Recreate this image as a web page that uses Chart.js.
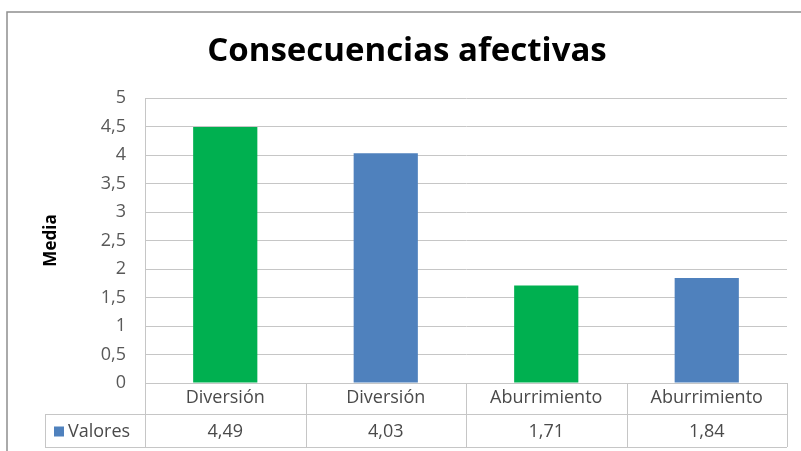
<!DOCTYPE html>
<html>
<head>
<meta charset="utf-8">
<script src="https://cdn.jsdelivr.net/npm/chart.js@4/dist/chart.umd.min.js"></script>
<style>
  html, body { margin: 0; padding: 0; background: #fff; }
  #wrap { width: 801px; height: 451px; }
</style>
</head>
<body>
<div id="wrap"><canvas id="chart" width="801" height="451"></canvas></div>
<script>
// Datos del gráfico
const categorias = ['Diversión', 'Diversión', 'Aburrimiento', 'Aburrimiento'];
const valores = [4.49, 4.03, 1.71, 1.84];
const colores = ['#00B050', '#4F81BD', '#00B050', '#4F81BD'];
const nombreSerie = 'Valores';
const titulo = 'Consecuencias afectivas';
const tituloEje = 'Media';

const FONT = '"Open Sans", Lato, sans-serif';
const GRID = '#c6c6c6';
const TEXT = '#4a4a4a';

// coma decimal
function coma(v, dec) {
    return (dec === undefined ? String(v) : v.toFixed(dec)).replace('.', ',');
}

// Marco, título y tabla de datos bajo el eje
const tablaPlugin = {
    id: 'tablaDatos',
    beforeDraw(chart) {
        const ctx = chart.ctx;
        ctx.save();
        ctx.strokeStyle = '#8f8f8f';
        ctx.lineWidth = 1.5;
        ctx.strokeRect(7, 12, 820, 460);
        ctx.restore();
    },
    afterDraw(chart) {
        const ctx = chart.ctx;
        const x = chart.scales.x;
        const area = chart.chartArea;
        const ancho = (area.right - area.left) / categorias.length;
        const y0 = area.bottom;
        const y1 = y0 + 31;
        const y2 = y1 + 33;
        const izq = 45;

        ctx.save();
        // título
        ctx.fillStyle = '#000';
        ctx.font = 'bold 33px ' + FONT;
        ctx.textAlign = 'center';
        ctx.textBaseline = 'middle';
        ctx.fillText(titulo, 407, 52);

        // líneas de la tabla
        ctx.strokeStyle = GRID;
        ctx.lineWidth = 1;
        ctx.beginPath();
        ctx.moveTo(area.left, y0 + 0.5); ctx.lineTo(area.right, y0 + 0.5);
        ctx.moveTo(izq, y1 + 0.5); ctx.lineTo(area.right, y1 + 0.5);
        ctx.moveTo(izq, y2 + 0.5); ctx.lineTo(area.right, y2 + 0.5);
        ctx.moveTo(izq + 0.5, y1); ctx.lineTo(izq + 0.5, y2);
        for (let i = 0; i <= categorias.length; i++) {
            const px = Math.round(area.left + i * ancho) + 0.5;
            ctx.moveTo(px, i === 0 ? area.top : y0);
            ctx.lineTo(px, y2);
        }
        ctx.stroke();

        // leyenda de la serie
        const yc = (y1 + y2) / 2 + 1;
        ctx.fillStyle = '#4F81BD';
        ctx.fillRect(54, yc - 5, 10, 10);
        ctx.fillStyle = TEXT;
        ctx.font = '18px ' + FONT;
        ctx.textAlign = 'left';
        ctx.fillText(nombreSerie, 68, yc);

        // valores
        ctx.textAlign = 'center';
        valores.forEach((v, i) => {
            ctx.fillText(coma(v, 2), x.getPixelForValue(i), yc);
        });
        ctx.restore();
    }
};

new Chart(document.getElementById('chart'), {
    type: 'bar',
    data: {
        labels: categorias,
        datasets: [{
            label: nombreSerie,
            data: valores,
            backgroundColor: colores,
            borderWidth: 0,
            categoryPercentage: 1,
            barPercentage: 0.4
        }]
    },
    options: {
        responsive: false,
        animation: false,
        layout: { padding: { left: 0, top: 98, right: 14, bottom: 36 } },
        plugins: {
            legend: { display: false },
            title: { display: false },
            tooltip: { enabled: false }
        },
        scales: {
            x: {
                grid: { display: false, drawTicks: false },
                border: { display: false },
                ticks: {
                    padding: 4,
                    color: TEXT,
                    font: { family: FONT, size: 18 },
                    maxRotation: 0
                },
                afterFit(scale) { scale.height = 32; }
            },
            y: {
                min: 0,
                max: 5,
                ticks: {
                    stepSize: 0.5,
                    padding: 19,
                    color: '#595959',
                    font: { family: FONT, size: 18 },
                    callback: (v) => coma(v)
                },
                grid: { color: GRID, drawTicks: false },
                border: { display: true, color: GRID },
                title: {
                    display: true,
                    text: tituloEje,
                    color: '#000',
                    font: { family: FONT, size: 17, weight: 'bold' },
                    padding: { top: 41, bottom: 0 }
                },
                afterFit(scale) { scale.width = 145; }
            }
        }
    },
    plugins: [tablaPlugin]
});
</script>
</body>
</html>
